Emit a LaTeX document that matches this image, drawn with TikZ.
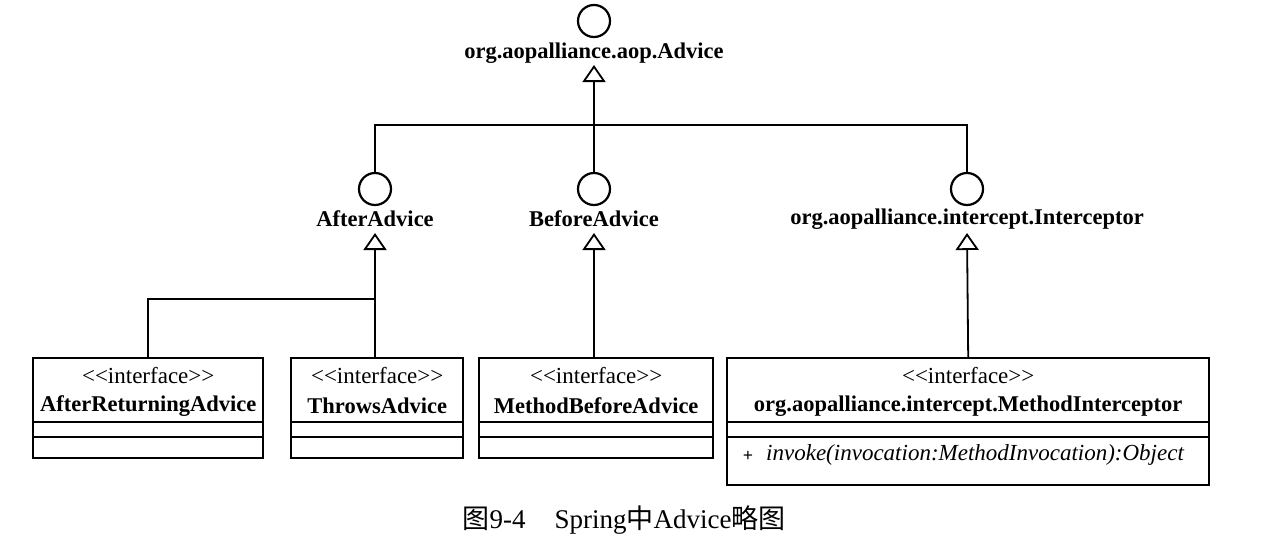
\documentclass[tikz,border=0pt]{standalone}
\usepackage{fontspec}
\newfontfamily\uml{Liberation Serif}
\newfontfamily\cjk{Noto Sans CJK SC}
\usetikzlibrary{arrows.meta}
\begin{document}
\begin{tikzpicture}[x=1pt,y=-1pt,
  iface/.style={circle,draw,line width=2.2pt,minimum size=32pt,inner sep=0pt},
  lbl/.style={font=\uml\fontsize{22.5}{24}\selectfont\bfseries,inner sep=0pt},
  stereo/.style={font=\uml\fontsize{23}{24}\selectfont,inner sep=0pt},
  cname/.style={font=\uml\fontsize{22.5}{24}\selectfont\bfseries,inner sep=0pt},
  meth/.style={font=\uml\fontsize{23}{24}\selectfont\itshape,inner sep=0pt},
  cls/.style={draw,line width=2.4pt,anchor=north west,inner sep=0pt,rectangle},
  conn/.style={line width=1.8pt},
  gen/.style={conn,-{Triangle[open,length=17pt,width=23pt,line width=1.8pt]}},
  divline/.style={line width=2pt}
]
\useasboundingbox (0,0) rectangle (1263,541);

% interfaces (lollipops)
\node[iface] (adv) at (594,21) {};
\node[lbl] (advl) at (594,53) {org.aopalliance.aop.Advice};
\node[iface] (aft) at (375,189) {};
\node[lbl] (aftl) at (375,219) {AfterAdvice};
\node[iface] (bef) at (594,189) {};
\node[lbl] (befl) at (594,219) {BeforeAdvice};
\node[iface] (int) at (967,189) {};
\node[lbl] (intl) at (967,219) {org.aopalliance.intercept.Interceptor};

% arrow tips and junctions
\coordinate (advt) at (594,65);
\coordinate (aftt) at (375,233);
\coordinate (beft) at (594,233);
\coordinate (intt) at (967,233);
\coordinate (bar) at (594,125);
\coordinate (j1) at (375,299);

% class boxes
\node[cls,minimum width=230pt,minimum height=100pt] (b1) at (32,357) {};
\node[cls,minimum width=172pt,minimum height=100pt] (b2) at (290,357) {};
\node[cls,minimum width=234pt,minimum height=100pt] (b3) at (478,357) {};
\node[cls,minimum width=482pt,minimum height=127pt] (b4) at (726,357) {};

\foreach \b in {b1,b2,b3,b4}{
  \draw[divline] (\b.west |- 0,422) -- (\b.east |- 0,422);
  \draw[divline] (\b.west |- 0,437) -- (\b.east |- 0,437);
}

\node[stereo] (b1s) at (b1.north |- 0,376) {<{}<interface>{}>};
\node[cname] (b1n) at (b1.north |- 0,406) {AfterReturningAdvice};
\node[stereo] (b2s) at (b2.north |- 0,376) {<{}<interface>{}>};
\node[cname] (b2n) at (b2.north |- 0,406) {ThrowsAdvice};
\node[stereo] (b3s) at (b3.north |- 0,376) {<{}<interface>{}>};
\node[cname] (b3n) at (b3.north |- 0,406) {MethodBeforeAdvice};
\node[stereo] (b4s) at (b4.north |- 0,376) {<{}<interface>{}>};
\node[cname] (b4n) at (b4.north |- 0,406) {org.aopalliance.intercept.MethodInterceptor};
\node[font=\uml\fontsize{18}{20}\selectfont\bfseries,inner sep=0pt] (b4p) at (748,456) {+};
\node[meth,anchor=west] (b4m) at (766,455) {invoke(invocation:MethodInvocation):Object};

% connectors
\draw[gen] (bef) -- (advt);
\draw[conn] (aft.north) |- (bar) -| (int.north);
\draw[gen] (b2.north -| aftt) -- (aftt);
\draw[conn] (b1.north) |- (j1);
\draw[gen] (b3.north -| beft) -- (beft);
\draw[gen] (b4.north) -- (intt);

% caption
\node[font=\uml\fontsize{27}{30}\selectfont,inner sep=0pt] (cap) at (624,520)
  {{\cjk 图}9-4\hspace{29pt}Spring{\cjk 中}Advice{\cjk 略图}};
\end{tikzpicture}
\end{document}
